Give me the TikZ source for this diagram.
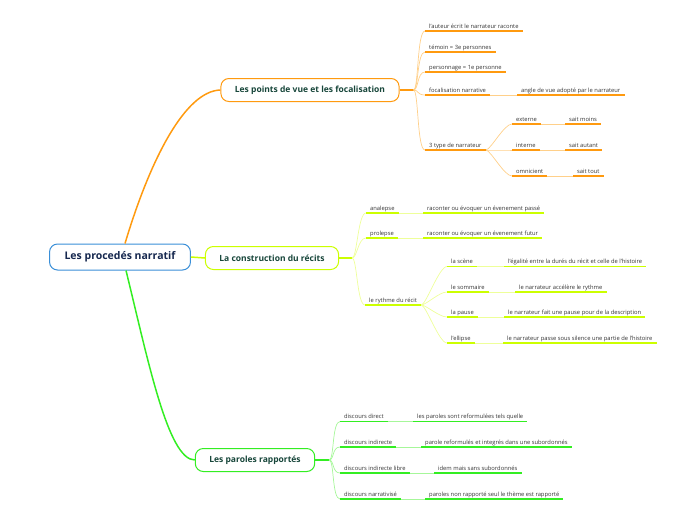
\documentclass[tikz,border=0pt]{standalone}
\usepackage{fontspec}
\setmainfont{Open Sans}
\usetikzlibrary{positioning}

\definecolor{orangeul}{HTML}{FF9A0F}
\definecolor{orangelt}{HTML}{FFD08A}
\definecolor{limeul}{HTML}{CCFF00}
\definecolor{limelt}{HTML}{EEFF99}
\definecolor{greenul}{HTML}{33EE22}
\definecolor{greenlt}{HTML}{A6F799}
\definecolor{rootblue}{HTML}{3A8FD8}
\definecolor{roottext}{HTML}{16284F}
\definecolor{maintext}{HTML}{17463A}
\definecolor{leaftext}{HTML}{333333}

\tikzset{
  leaf/.style={anchor=south west, font=\fontsize{5.8}{7}\selectfont, text=leaftext,
    inner xsep=4pt, inner ysep=1.3pt, text height=4.4pt, text depth=1.1pt},
  mainnode/.style={draw, line width=1pt, rounded corners=8pt, fill=white,
    font=\fontsize{8.5}{10}\selectfont\bfseries, text=maintext,
    minimum height=23pt, inner xsep=14pt},
  rootnode/.style={mainnode, draw=rootblue, minimum height=26pt, inner xsep=15pt,
    font=\fontsize{10.5}{12}\selectfont\bfseries, text=roottext},
  ul/.style={line width=1.4pt},
  link/.style={line width=0.7pt},
  branch/.style={to path={.. controls +(5,0) and +(-8,0) .. (\tikztotarget)}},
}

\begin{document}
\begin{tikzpicture}[x=1pt, y=-1pt]
  \useasboundingbox (0,0) rectangle (696,520);

  % 1. noeud central et les trois branches
  \node[rootnode] (root) at (120,257) {Les procedés narratif};
  \node[mainnode, draw=orangeul] (pv) at (310,90) {Les points de vue et les focalisation};
  \node[mainnode, draw=limeul] (cr) at (272,258) {La construction du récits};
  \node[mainnode, draw=greenul] (pr) at (255,460) {Les paroles rapportés};

  \draw[orangeul, line width=1.5pt] ([xshift=5pt]root.north) .. controls (150,160) and (185,91) .. (pv.west);
  \draw[limeul, line width=1.5pt] (root.east) -- (cr.west);
  \draw[greenul, line width=1.5pt] ([xshift=6pt]root.south) .. controls (148,360) and (168,460) .. (pr.west);

  \coordinate (hub1) at ([xshift=14pt]pv.east);
  \coordinate (hub2) at ([xshift=13pt]cr.east);
  \coordinate (hub3) at ([xshift=14pt]pr.east);
  \draw[orangeul, line width=1.8pt] (pv.east) -- (hub1);
  \draw[limeul, line width=1.8pt] (cr.east) -- (hub2);
  \draw[greenul, line width=1.8pt] (pr.east) -- (hub3);

  % 2. points de vue
  \node[leaf] (l11) at (425,31) {l'auteur écrit le narrateur raconte};
  \node[leaf] (l12) at (425,52) {témoin = 3e personnes};
  \node[leaf] (l13) at (425,72) {personnage = 1e personne};
  \node[leaf] (l14) at (425,95) {focalisation narrative};
  \node[leaf] (d14) at (517,95) {angle de vue adopté par le narrateur};
  \node[leaf] (l15) at (425,150) {3 type de narrateur};
  \node[leaf] (l151) at (512,124) {externe};
  \node[leaf] (d151) at (565,124) {sait moins};
  \node[leaf] (l152) at (512,150) {interne};
  \node[leaf] (d152) at (565,150) {sait autant};
  \node[leaf] (l153) at (512,176) {omnicient};
  \node[leaf] (d153) at (573,176) {sait tout};

  \foreach \n in {l11,l12,l13,l14,l15}
    \draw[orangelt, link] (hub1) to[branch] (\n.south west);
  \foreach \n in {l151,l152,l153}
    \draw[orangelt, link] (l15.south east) to[branch] (\n.south west);
  \foreach \a/\b in {l14/d14,l151/d151,l152/d152,l153/d153}
    \draw[orangelt, link] (\a.south east) -- (\b.south west);
  \foreach \n in {l11,l12,l13,l14,d14,l15,l151,d151,l152,d152,l153,d153}
    \draw[orangeul, ul] (\n.south west) -- (\n.south east);

  % 3. construction du recit
  \node[leaf] (l21) at (366,213) {analepse};
  \node[leaf] (d21) at (423,213) {raconter ou évoquer un évenement passé};
  \node[leaf] (l22) at (366,238) {prolepse};
  \node[leaf] (d22) at (423,238) {raconter ou évoquer un évenement futur};
  \node[leaf] (l23) at (365,305) {le rythme du récit};
  \node[leaf] (l231) at (447,266.5) {la scène};
  \node[leaf] (d231) at (504,266.5) {l'égalité entre la durés du récit et celle de l'histoire};
  \node[leaf] (l232) at (447,292) {le sommaire};
  \node[leaf] (d232) at (515,292) {le narrateur accélère le rythme};
  \node[leaf] (l233) at (447,317) {la pause};
  \node[leaf] (d233) at (504,317) {le narrateur fait une pause pour de la description};
  \node[leaf] (l234) at (447,343) {l'ellipse};
  \node[leaf] (d234) at (503,343) {le narrateur passe sous silence une partie de l'histoire};

  \foreach \n in {l21,l22,l23}
    \draw[limelt, link] (hub2) to[branch] (\n.south west);
  \foreach \n in {l231,l232,l233,l234}
    \draw[limelt, link] (l23.south east) to[branch] (\n.south west);
  \foreach \a/\b in {l21/d21,l22/d22,l231/d231,l232/d232,l233/d233,l234/d234}
    \draw[limelt, link] (\a.south east) -- (\b.south west);
  \foreach \n in {l21,d21,l22,d22,l23,l231,d231,l232,d232,l233,d233,l234,d234}
    \draw[limeul, ul] (\n.south west) -- (\n.south east);

  % 4. paroles rapportees
  \node[leaf] (l31) at (340,421.5) {discours direct};
  \node[leaf] (d31) at (413,421.5) {les paroles sont reformulées tels quelle};
  \node[leaf] (l32) at (340,447) {discours indirecte};
  \node[leaf] (d32) at (421,447) {parole reformulés et integrés dans une subordonnés};
  \node[leaf] (l33) at (340,473) {discours indirecte libre};
  \node[leaf] (d33) at (434,473) {idem mais sans subordonnés};
  \node[leaf] (l34) at (340,499) {discours narrativisé};
  \node[leaf] (d34) at (425,499) {paroles non rapporté seul le thème est rapporté};

  \foreach \n in {l31,l32,l33,l34}
    \draw[greenlt, link] (hub3) to[branch] (\n.south west);
  \foreach \a/\b in {l31/d31,l32/d32,l33/d33,l34/d34}
    \draw[greenlt, link] (\a.south east) -- (\b.south west);
  \foreach \n in {l31,d31,l32,d32,l33,d33,l34,d34}
    \draw[greenul, ul] (\n.south west) -- (\n.south east);
\end{tikzpicture}
\end{document}
